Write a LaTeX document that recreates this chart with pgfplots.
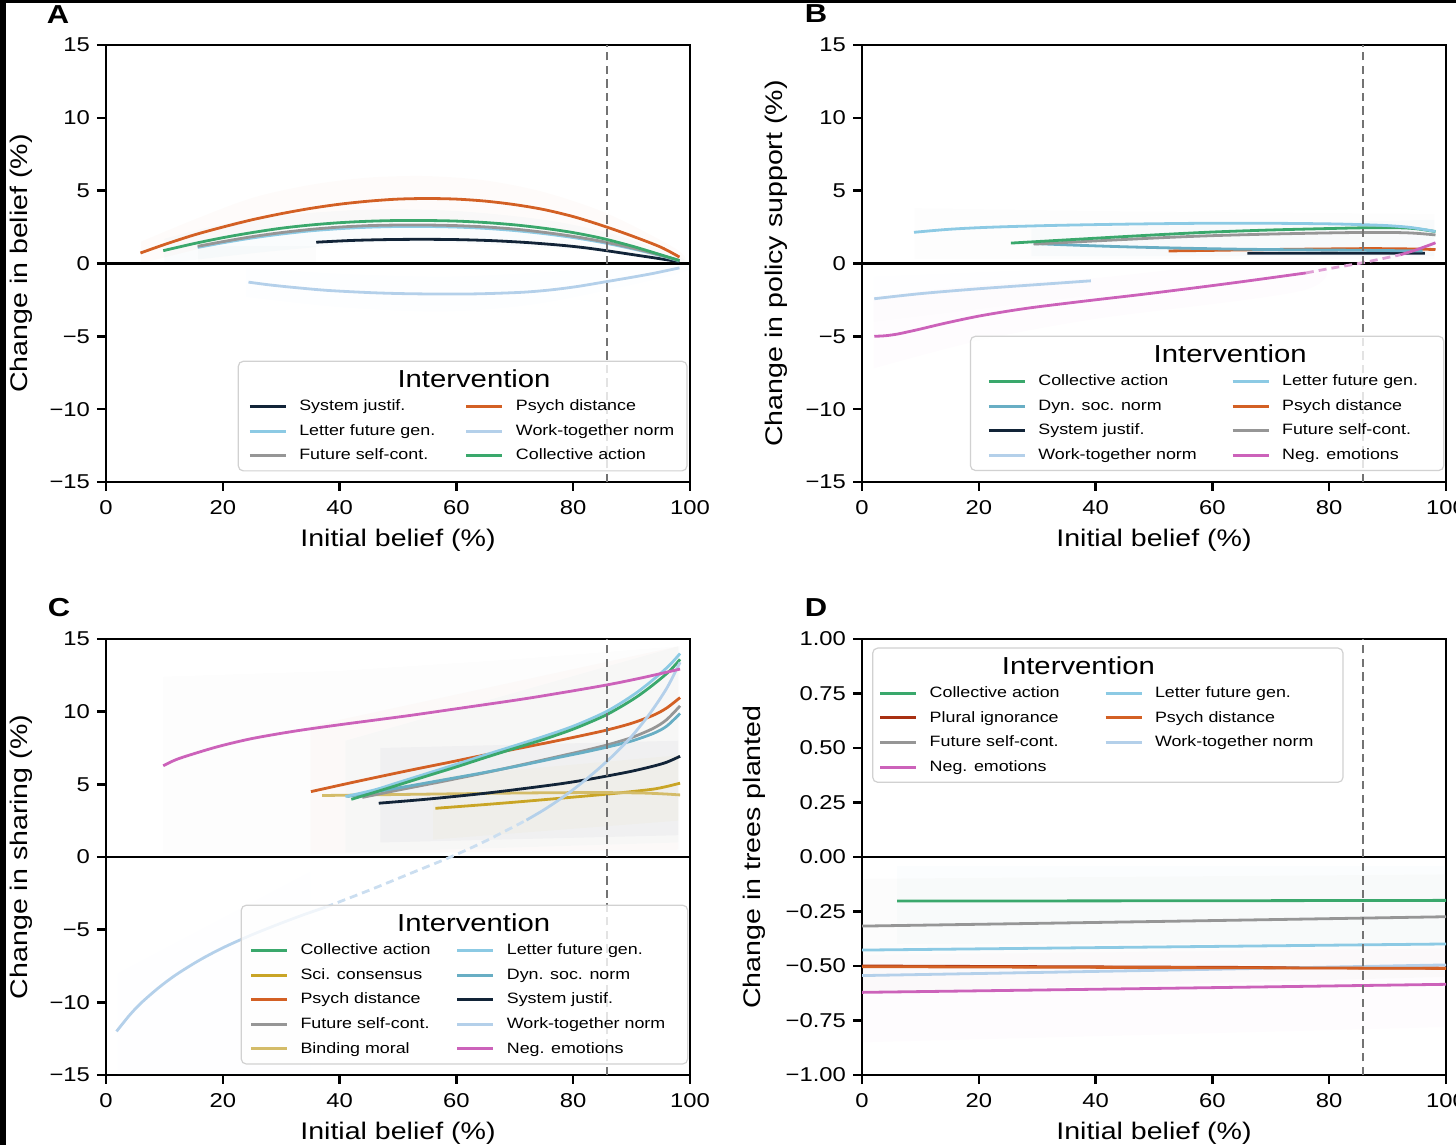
\documentclass[border=0pt]{standalone}
\usepackage{fontspec}
\setmainfont{Liberation Sans}[FakeStretch=1.19]
\usepackage{pgfplots}
\pgfplotsset{compat=1.18}
\definecolor{cCA}{RGB}{58,168,108}
\definecolor{cSC}{RGB}{201,165,38}
\definecolor{cPD}{RGB}{211,96,36}
\definecolor{cFS}{RGB}{150,150,150}
\definecolor{cBM}{RGB}{212,188,105}
\definecolor{cLF}{RGB}{140,202,228}
\definecolor{cDS}{RGB}{104,174,196}
\definecolor{cSJ}{RGB}{18,36,56}
\definecolor{cWT}{RGB}{180,208,234}
\definecolor{cNE}{RGB}{204,98,186}
\definecolor{cPI}{RGB}{168,48,18}
\newcommand{\lgt}[2]{\makebox[#1][l]{\rule[-1.6pt]{0pt}{7.2pt}#2}}
\newcommand{\lgtitle}{\rule[-2pt]{0pt}{10.4pt}}
\pgfplotsset{
  myaxis/.style={
    scale only axis, width=292pt,
    xmin=0, xmax=100,
    axis line style={line width=1.3pt},
    tick align=outside, xtick pos=bottom, ytick pos=left,
    major tick length=4.5pt,
    every tick/.style={black, line width=1.2pt},
    xtick={0,20,40,60,80,100},
    xticklabels={0,20,40,60,80,100},
    ticklabel style={font=\fontsize{10}{12}\selectfont},
    xticklabel style={yshift=-1pt},
    xlabel={Initial belief (\%)},
    label style={font=\fontsize{12}{14}\selectfont},
    xlabel style={at={(axis description cs:0.5,-0.1327)}, anchor=center},
    legend image code/.code={\draw[##1, line width=1.5pt] (0pt,0pt) -- (18pt,0pt);},
    legend cell align=left,
    legend columns=2,
    legend style={draw=black!18, line width=0.6pt, fill=white, fill opacity=0.8, text opacity=1,
      rounded corners=2.5pt, font=\fontsize{7.5}{9}\selectfont, column sep=6pt, row sep=5.2pt,
      inner ysep=4pt, anchor=north west, nodes={inner sep=0pt}},
  },
  cv/.style={line width=1.4pt, smooth, forget plot},
  bd/.style={draw=none, fill=#1, forget plot},
}
\begin{document}
\begin{tikzpicture}
%%%%%%%%%%%%%%%%%%%%%%%%%%%% A
\begin{axis}[myaxis, at={(53pt,331.5pt)}, anchor=south west, height=218.5pt,
  ymin=-15, ymax=15, ytick={-15,-10,-5,0,5,10,15},
  yticklabels={−15,−10,−5,0,5,10,15},
  ylabel={Change in belief (\%)},
  ylabel style={at={(axis description cs:-0.1455,0.5)}, anchor=center},
  legend style={at={(0.2255,0.2776)}, inner xsep=5pt}]
\addplot[bd=cPD, fill opacity=0.025, smooth] coordinates {(6,1.5)(15,3.0)(25,4.5)(35,5.4)(45,5.9)(55,6.0)(65,5.7)(75,4.9)(86,3.4)(98,0.9)(98,0.1)(86,1.3)(70,2.6)(52,3.0)(35,2.6)(20,1.4)(6,0)};
\addplot[bd=cDS, fill opacity=0.035, smooth] coordinates {(10,1.7)(20,2.7)(30,3.3)(45,3.7)(60,3.6)(75,3.0)(86,2.1)(98,0.5)(98,0)(86,0.8)(52,1.5)(30,0.9)(10,0)};
\addplot[bd=cFS, fill opacity=0.03] coordinates {(15.7,0)(36,0)(36,1.2)(15.7,1.2)};
\addplot[bd=cWT, fill opacity=0.025, smooth] coordinates {(24,-0.3)(40,-0.7)(58,-0.9)(75,-0.6)(98,0)(98,-0.7)(75,-2.7)(58,-3.3)(40,-3.0)(24,-2.3)};
\addplot[black, line width=1.3pt, forget plot] coordinates {(0,0)(100,0)};
\addplot[cv, color=cWT] coordinates {(24.4,-1.28)(28,-1.47)(32.3,-1.65)(38,-1.85)(45.2,-2.0)(51,-2.07)(58.1,-2.1)(64,-2.08)(71.1,-1.98)(76,-1.82)(80.7,-1.58)(85.9,-1.23)(90,-0.95)(93.7,-0.68)(98.2,-0.3)};
\addplot[cv, color=cSJ] coordinates {(36,1.46)(42,1.58)(48,1.64)(54,1.66)(60,1.64)(66,1.57)(72,1.44)(78,1.25)(82,1.08)(86,0.86)(90,0.62)(94,0.38)(98.2,0.12)};
\addplot[cv, color=cLF] coordinates {(15.7,1.1)(20,1.42)(25,1.75)(30,2.02)(35,2.24)(40,2.39)(45,2.49)(50,2.54)(55,2.54)(60,2.5)(65,2.41)(70,2.26)(75,2.05)(80,1.78)(85,1.44)(90,1.02)(94,0.64)(98.2,0.18)};
\addplot[cv, color=cFS] coordinates {(15.7,1.18)(20,1.5)(25,1.84)(30,2.12)(35,2.34)(40,2.5)(45,2.6)(50,2.64)(55,2.64)(60,2.6)(65,2.51)(70,2.36)(75,2.14)(80,1.86)(85,1.51)(90,1.07)(94,0.67)(98.2,0.2)};
\addplot[cv, color=cCA] coordinates {(9.8,0.88)(15,1.36)(20,1.77)(25,2.12)(30,2.42)(35,2.64)(40,2.8)(45,2.9)(50,2.95)(55,2.95)(60,2.91)(65,2.81)(70,2.65)(75,2.42)(80,2.12)(85,1.72)(90,1.2)(94,0.72)(98.2,0.2)};
\addplot[cv, color=cPD] coordinates {(5.9,0.72)(10,1.3)(15,1.95)(20,2.5)(25,3.0)(30,3.42)(35,3.78)(40,4.07)(45,4.28)(50,4.42)(55,4.46)(60,4.42)(65,4.28)(70,4.04)(75,3.7)(80,3.22)(85,2.6)(90,1.9)(95,1.12)(98.2,0.44)};
\addplot[color=black!55, line width=1pt, dash pattern=on 4.2pt off 2.6pt, forget plot] coordinates {(85.8,-15)(85.8,15)};
\addlegendimage{empty legend}\addlegendentry{\lgtitle}
\addlegendimage{empty legend}\addlegendentry{}
\addlegendimage{color=cSJ}\addlegendentry{\lgt{76.85pt}{System justif.}}
\addlegendimage{color=cPD}\addlegendentry{\lgt{80.5pt}{Psych distance}}
\addlegendimage{color=cLF}\addlegendentry{\lgt{76.85pt}{Letter future gen.}}
\addlegendimage{color=cWT}\addlegendentry{\lgt{80.5pt}{Work-together norm}}
\addlegendimage{color=cFS}\addlegendentry{\lgt{76.85pt}{Future self-cont.}}
\addlegendimage{color=cCA}\addlegendentry{\lgt{80.5pt}{Collective action}}
\end{axis}
\node[font=\fontsize{12.3}{14}\selectfont] at (237pt,383.25pt) {Intervention};
%%%%%%%%%%%%%%%%%%%%%%%%%%%% B
\begin{axis}[myaxis, at={(431pt,331.5pt)}, anchor=south west, height=218.5pt,
  ymin=-15, ymax=15, ytick={-15,-10,-5,0,5,10,15},
  yticklabels={−15,−10,−5,0,5,10,15},
  ylabel={Change in policy support (\%)},
  ylabel style={at={(axis description cs:-0.1467,0.5)}, anchor=center},
  legend style={at={(0.1846,0.3348)}, inner xsep=8.5pt}]
\addplot[bd=cNE, fill opacity=0.02, smooth] coordinates {(2,-2.3)(20,-1.5)(40,-1.0)(76,0.4)(76,-1.8)(40,-3.8)(20,-5.3)(2,-7.2)};
\addplot[bd=cFS, fill opacity=0.02] coordinates {(9,3.8)(40,3.6)(98,3.4)(98,0.3)(40,0.3)(9,0.3)};
\addplot[bd=cDS, fill opacity=0.03] coordinates {(29,2.4)(98,3.0)(98,0.5)(29,0.5)};
\addplot[bd=cWT, fill opacity=0.02] coordinates {(2,-0.9)(39,-0.3)(39,-2.2)(2,-4.0)};
\addplot[black, line width=1.3pt, forget plot] coordinates {(0,0)(100,0)};
\addplot[cv, color=cWT] coordinates {(2.1,-2.42)(10,-2.07)(19.5,-1.75)(30,-1.45)(39.2,-1.19)};
\addplot[cv, color=cSJ] coordinates {(66,0.7)(80,0.71)(96.4,0.7)};
\addplot[cv, color=cPD] coordinates {(52.5,0.86)(60,0.9)(70,0.96)(80,1.0)(86,1.02)(92,1.01)(98.2,0.96)};
\addplot[cv, color=cDS] coordinates {(29.4,1.37)(37,1.25)(45.5,1.14)(55,1.05)(64.9,0.98)(75,0.94)(84.4,0.91)(96,0.86)};
\addplot[cv, color=cFS] coordinates {(29.4,1.33)(40,1.55)(51.9,1.78)(60,1.91)(70,2.02)(80,2.1)(86,2.13)(92,2.12)(95,2.07)(98.2,1.96)};
\addplot[cv, color=cCA] coordinates {(25.5,1.4)(35,1.62)(45,1.85)(51.9,2.0)(60,2.16)(70,2.3)(80,2.4)(86,2.45)(92,2.45)(95,2.38)(98.2,2.19)};
\addplot[cv, color=cLF] coordinates {(8.9,2.14)(15,2.35)(22,2.49)(32.5,2.61)(45,2.7)(58.4,2.76)(70,2.76)(80,2.72)(86,2.66)(90,2.6)(94,2.47)(98.2,2.2)};
\addplot[cv, color=cNE] coordinates {(2.1,-5.0)(4,-4.96)(6,-4.85)(8,-4.68)(10,-4.5)(14,-4.12)(19.5,-3.65)(25,-3.27)(30,-2.98)(39,-2.54)(48,-2.12)(58.4,-1.6)(66,-1.2)(76,-0.65)};
\addplot[cv, color=cNE!60, dash pattern=on 4pt off 2.5pt] coordinates {(76,-0.65)(80,-0.35)(85.7,0.05)(92.2,0.6)};
\addplot[cv, color=cNE] coordinates {(92.2,0.6)(95,0.95)(98.2,1.42)};
\addplot[color=black!55, line width=1pt, dash pattern=on 4.2pt off 2.6pt, forget plot] coordinates {(85.8,-15)(85.8,15)};
\addlegendimage{empty legend}\addlegendentry{\lgtitle}
\addlegendimage{empty legend}\addlegendentry{}
\addlegendimage{color=cCA}\addlegendentry{\lgt{90.35pt}{Collective action}}
\addlegendimage{color=cLF}\addlegendentry{\lgt{72.35pt}{Letter future gen.}}
\addlegendimage{color=cDS}\addlegendentry{\lgt{90.35pt}{Dyn. soc. norm}}
\addlegendimage{color=cPD}\addlegendentry{\lgt{72.35pt}{Psych distance}}
\addlegendimage{color=cSJ}\addlegendentry{\lgt{90.35pt}{System justif.}}
\addlegendimage{color=cFS}\addlegendentry{\lgt{72.35pt}{Future self-cont.}}
\addlegendimage{color=cWT}\addlegendentry{\lgt{90.35pt}{Work-together norm}}
\addlegendimage{color=cNE}\addlegendentry{\lgt{72.35pt}{Neg. emotions}}
\end{axis}
\node[font=\fontsize{12.3}{14}\selectfont] at (615.1pt,395.7pt) {Intervention};
%%%%%%%%%%%%%%%%%%%%%%%%%%%% C
\begin{axis}[myaxis, at={(53pt,35pt)}, anchor=south west, height=218pt,
  ymin=-15, ymax=15, ytick={-15,-10,-5,0,5,10,15},
  yticklabels={−15,−10,−5,0,5,10,15},
  ylabel={Change in sharing (\%)},
  ylabel style={at={(axis description cs:-0.1455,0.5)}, anchor=center},
  legend style={at={(0.2306,0.3908)}, inner xsep=4.15pt}]
\addplot[bd=cFS, fill opacity=0.025] coordinates {(9.8,0.3)(98.3,0.3)(98.3,14.5)(70,13.6)(40,12.8)(9.8,12.4)};
\addplot[bd=cPD, fill opacity=0.02] coordinates {(35,0.2)(98,0.5)(98,14.5)(35,9)};
\addplot[bd=cDS, fill opacity=0.03] coordinates {(41,0.3)(98,1)(98,14.5)(41,8)};
\addplot[bd=cSJ, fill opacity=0.03] coordinates {(47,1)(98,1.5)(98,8)(47,7.5)};
\addplot[bd=cSC, fill opacity=0.03] coordinates {(56,1.2)(98,2.5)(98,7)(56,5.5)};
\addplot[bd=cWT, fill opacity=0.02] coordinates {(2,-15)(35,-15)(35,-1)(2,-8)};
\addplot[black, line width=1.3pt, forget plot] coordinates {(0,0)(100,0)};
\addplot[cv, color=cSC] coordinates {(56.4,3.35)(64,3.58)(71.1,3.81)(78,4.05)(85.9,4.33)(90,4.5)(93.7,4.67)(96,4.85)(98.3,5.08)};
\addplot[cv, color=cBM] coordinates {(37,4.23)(50,4.3)(60,4.35)(70,4.4)(80,4.43)(86,4.43)(92,4.4)(96,4.33)(98.3,4.27)};
\addplot[cv, color=cSJ] coordinates {(46.7,3.7)(55,3.98)(64.6,4.37)(71,4.68)(77.5,5.02)(82,5.3)(85.9,5.58)(90,5.9)(93.7,6.25)(96,6.52)(98.3,6.93)};
\addplot[cv, color=cFS] coordinates {(43.9,4.1)(50,4.6)(57,5.15)(64.6,5.77)(71,6.33)(77.5,6.92)(82,7.33)(85.9,7.72)(90,8.22)(93.7,8.85)(96,9.45)(98.3,10.4)};
\addplot[cv, color=cDS] coordinates {(41.3,4.16)(50,4.75)(57,5.25)(64.6,5.8)(71,6.3)(77.5,6.85)(82,7.22)(85.9,7.57)(90,7.98)(93.7,8.5)(96,9.0)(98.3,9.88)};
\addplot[cv, color=cPD] coordinates {(35.1,4.5)(43,5.2)(51.7,5.94)(58,6.45)(64.6,7.0)(71,7.5)(77.5,8.02)(82,8.4)(85.9,8.75)(90,9.2)(93.7,9.75)(96,10.25)(98.3,10.97)};
\addplot[cv, color=cLF] coordinates {(41,4.16)(46,4.62)(50,5.12)(55,5.75)(60,6.38)(65,7.03)(70,7.66)(75,8.3)(80,9.0)(85,9.87)(88,10.55)(91,11.35)(94,12.3)(96.5,13.2)(98.3,14.0)};
\addplot[cv, color=cCA] coordinates {(42,3.97)(46,4.45)(50,4.95)(55,5.58)(60,6.2)(65,6.85)(70,7.48)(75,8.1)(80,8.8)(85,9.65)(88,10.3)(91,11.05)(94,11.95)(96.5,12.8)(98.3,13.6)};
\addplot[cv, color=cWT] coordinates {(1.8,-12.0)(4,-10.9)(6,-10.05)(9,-9.0)(12,-8.1)(16,-7.1)(20,-6.25)(25,-5.35)(30,-4.55)(34,-3.95)(37.6,-3.45)};
\addplot[cv, color=cWT!70, dash pattern=on 4pt off 2.5pt] coordinates {(37.6,-3.45)(45,-2.3)(52,-1.15)(59,0)(65,1.1)(72,2.54)};
\addplot[cv, color=cWT] coordinates {(72,2.54)(75,3.25)(78,4.05)(81,4.95)(84,5.95)(87,7.05)(90,8.3)(93,9.8)(96,11.6)(98.3,13.4)};
\addplot[cv, color=cNE] coordinates {(9.8,6.28)(12,6.7)(15,7.1)(19.4,7.62)(25,8.15)(32.3,8.66)(40,9.1)(51.7,9.72)(60,10.2)(71.1,10.85)(78,11.3)(85.9,11.85)(92,12.35)(98.3,12.93)};
\addplot[color=black!55, line width=1pt, dash pattern=on 4.2pt off 2.6pt, forget plot] coordinates {(85.8,-15)(85.8,15)};
\addlegendimage{empty legend}\addlegendentry{\lgtitle}
\addlegendimage{empty legend}\addlegendentry{}
\addlegendimage{color=cCA}\addlegendentry{\lgt{71.65pt}{Collective action}}
\addlegendimage{color=cLF}\addlegendentry{\lgt{86.25pt}{Letter future gen.}}
\addlegendimage{color=cSC}\addlegendentry{\lgt{71.65pt}{Sci. consensus}}
\addlegendimage{color=cDS}\addlegendentry{\lgt{86.25pt}{Dyn. soc. norm}}
\addlegendimage{color=cPD}\addlegendentry{\lgt{71.65pt}{Psych distance}}
\addlegendimage{color=cSJ}\addlegendentry{\lgt{86.25pt}{System justif.}}
\addlegendimage{color=cFS}\addlegendentry{\lgt{71.65pt}{Future self-cont.}}
\addlegendimage{color=cWT}\addlegendentry{\lgt{86.25pt}{Work-together norm}}
\addlegendimage{color=cBM}\addlegendentry{\lgt{71.65pt}{Binding moral}}
\addlegendimage{color=cNE}\addlegendentry{\lgt{86.25pt}{Neg. emotions}}
\end{axis}
\node[font=\fontsize{12.3}{14}\selectfont] at (236.85pt,111.25pt) {Intervention};
%%%%%%%%%%%%%%%%%%%%%%%%%%%% D
\begin{axis}[myaxis, at={(431pt,35pt)}, anchor=south west, height=218pt,
  ymin=-1, ymax=1, ytick={-1,-0.75,-0.5,-0.25,0,0.25,0.5,0.75,1},
  yticklabels={−1.00,−0.75,−0.50,−0.25,0.00,0.25,0.50,0.75,1.00},
  ylabel={Change in trees planted},
  ylabel style={at={(axis description cs:-0.184,0.5)}, anchor=center},
  legend style={at={(0.0173,0.9805)}, inner xsep=3pt}]
\addplot[bd=cDS, fill opacity=0.025] coordinates {(6,-0.04)(100,-0.04)(100,-0.40)(6,-0.40)};
\addplot[bd=cFS, fill opacity=0.03] coordinates {(0,-0.10)(100,-0.08)(100,-0.55)(0,-0.62)};
\addplot[bd=cNE, fill opacity=0.02] coordinates {(0,-0.45)(100,-0.42)(100,-0.78)(0,-0.85)};
\addplot[black, line width=1.3pt, forget plot] coordinates {(0,0)(100,0)};
\addplot[cv, color=cPI] coordinates {(0,-0.50)(100,-0.51)};
\addplot[cv, color=cWT] coordinates {(0,-0.544)(50,-0.52)(100,-0.495)};
\addplot[cv, color=cPD] coordinates {(0,-0.503)(50,-0.507)(100,-0.511)};
\addplot[cv, color=cNE] coordinates {(0,-0.621)(50,-0.603)(100,-0.584)};
\addplot[cv, color=cLF] coordinates {(0,-0.427)(50,-0.413)(100,-0.399)};
\addplot[cv, color=cFS] coordinates {(0,-0.317)(50,-0.296)(100,-0.274)};
\addplot[cv, color=cCA] coordinates {(6,-0.202)(50,-0.201)(100,-0.199)};
\addplot[color=black!55, line width=1pt, dash pattern=on 4.2pt off 2.6pt, forget plot] coordinates {(85.8,-1)(85.8,1)};
\addlegendimage{empty legend}\addlegendentry{\lgtitle}
\addlegendimage{empty legend}\addlegendentry{}
\addlegendimage{color=cCA}\addlegendentry{\lgt{81.15pt}{Collective action}}
\addlegendimage{color=cLF}\addlegendentry{\lgt{91pt}{Letter future gen.}}
\addlegendimage{color=cPI}\addlegendentry{\lgt{81.15pt}{Plural ignorance}}
\addlegendimage{color=cPD}\addlegendentry{\lgt{91pt}{Psych distance}}
\addlegendimage{color=cFS}\addlegendentry{\lgt{81.15pt}{Future self-cont.}}
\addlegendimage{color=cWT}\addlegendentry{\lgt{91pt}{Work-together norm}}
\addlegendimage{color=cNE}\addlegendentry{\lgt{81.15pt}{Neg. emotions}}
\end{axis}
\node[font=\fontsize{12.3}{14}\selectfont] at (539.2pt,239.8pt) {Intervention};
%%%%%%%%%%%%%%%%%%%%%%%%%%%% panel letters and frame
\node[font=\bfseries\fontsize{13}{13}\selectfont] at (29pt,565pt) {A};
\node[font=\bfseries\fontsize{13}{13}\selectfont] at (408pt,565.5pt) {B};
\node[font=\bfseries\fontsize{13}{13}\selectfont] at (29.5pt,268.5pt) {C};
\node[font=\bfseries\fontsize{13}{13}\selectfont] at (408pt,268.5pt) {D};
\pgfresetboundingbox
\path[use as bounding box] (0pt,0pt) rectangle (728pt,572.5pt);
\fill[black] (0pt,0pt) rectangle (3pt,572.5pt);
\fill[black] (0pt,571pt) rectangle (728pt,572.5pt);
\end{tikzpicture}
\end{document}
